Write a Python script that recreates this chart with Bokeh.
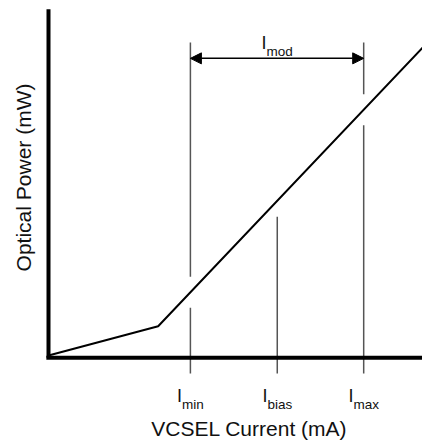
import numpy as np
from bokeh.plotting import figure
from bokeh.models import Range1d, Arrow, NormalHead
from bokeh.core.properties import value
from bokeh.embed import file_html
from bokeh.resources import INLINE

# ---- data (schematic L-I curve) ----
current_ma = [0.0, 2.55, 8.7]          # curve break points (mA, arbitrary units)
power_mw = [0.0, 0.68, 7.16]           # optical power at those points
marker_names = ["min", "bias", "max"]  # subscripts of the marked currents
marker_currents = [3.3, 5.32, 7.33]
span_name = "mod"
x_title = "VCSEL Current (mA)"
y_title = "Optical Power (mW)"

# ---- layout ----
W, H = 422, 442
PX = 43.0          # pixels per unit
OX, OY = 48, 355   # origin position inside canvas (px from left / top)

p = figure(width=W, height=H,
           x_range=Range1d(-OX / PX, (W - OX) / PX),
           y_range=Range1d(-(H - OY) / PX, OY / PX),
           output_backend="svg", toolbar_location=None,
           x_axis_location=None, y_axis_location=None, min_border=0)
p.outline_line_color = None
p.grid.visible = False
p.background_fill_color = "white"
p.border_fill_color = "white"

FONT = value("Liberation Sans")
TOP = 8.05
BOTTOM_TICK = -0.42
LINE_TOP = 7.28
GAP = 0.36

def curve(x):
    return float(np.interp(x, current_ma, power_mw))

def lift(fs):
    # compensation for baseline placement (in data units)
    return 0.33 * fs / PX

# marker lines
x0s, y0s, x1s, y1s = [], [], [], []
for name, xc in zip(marker_names, marker_currents):
    yc = curve(xc)
    if name == "bias":
        x0s.append(xc); y0s.append(BOTTOM_TICK); x1s.append(xc); y1s.append(yc - GAP - 0.01)
    else:
        x0s += [xc, xc]; y0s += [BOTTOM_TICK, yc + GAP]
        x1s += [xc, xc]; y1s += [yc - GAP, LINE_TOP]
p.segment(x0=x0s, y0=y0s, x1=x1s, y1=y1s, line_color="#555555", line_width=1.5)

# axes
p.line(x=[0, 0], y=[-0.05, TOP], line_color="black", line_width=4)
p.line(x=[-0.05, 10], y=[-0.05, -0.05], line_color="black", line_width=4)

# curve
p.line(x=current_ma, y=power_mw, line_color="black", line_width=2)

# modulation arrow
i_min = marker_currents[marker_names.index("min")]
i_max = marker_currents[marker_names.index("max")]
ARROW_Y = 6.91
p.add_layout(Arrow(x_start=i_min, y_start=ARROW_Y, x_end=i_max, y_end=ARROW_Y,
                   line_width=1.5, line_color="black",
                   start=NormalHead(size=11, fill_color="black", line_color="black", line_width=1),
                   end=NormalHead(size=11, fill_color="black", line_color="black", line_width=1)))

# label helpers
CW = {"m": .833, "i": .222, "n": .556, "b": .556, "a": .556, "s": .5, "x": .5, "o": .556, "d": .556}
BIG, SMALL, TITLE = 18, 13.5, 21
I_ADV = 0.278 * BIG

def offs(sub):
    w = sum(CW[c] for c in sub) * SMALL
    return (I_ADV - w) / 2.0

# tick labels
TL_I_Y, TL_SUB_Y = -1.086, -1.24
xo = [offs(n) for n in marker_names]
p.text(x=marker_currents, y=[TL_I_Y + lift(BIG)] * 3, text=["I"] * 3, x_offset=xo,
       text_font=FONT, text_font_size=value(f"{BIG}px"), text_align="right",
       text_baseline="alphabetic", text_color="#111111")
p.text(x=marker_currents, y=[TL_SUB_Y + lift(SMALL)] * 3, text=marker_names, x_offset=xo,
       text_font=FONT, text_font_size=value(f"{SMALL}px"), text_align="left",
       text_baseline="alphabetic", text_color="#111111")

# span label
mid = (i_min + i_max) / 2.0
p.text(x=[mid], y=[7.13 + lift(BIG)], text=["I"], x_offset=[offs(span_name)],
       text_font=FONT, text_font_size=value(f"{BIG}px"), text_align="right",
       text_baseline="alphabetic", text_color="#111111")
p.text(x=[mid], y=[6.96 + lift(SMALL)], text=[span_name], x_offset=[offs(span_name)],
       text_font=FONT, text_font_size=value(f"{SMALL}px"), text_align="left",
       text_baseline="alphabetic", text_color="#111111")

# axis titles
p.text(x=[4.67], y=[-1.86 + lift(TITLE)], text=[x_title], text_font=FONT,
       text_font_size=value(f"{TITLE}px"), text_align="center",
       text_baseline="alphabetic", text_color="#111111")
p.text(x=[-0.42 - lift(TITLE)], y=[4.14], text=[y_title], angle=np.pi / 2, text_font=FONT,
       text_font_size=value(f"{TITLE}px"), text_align="center",
       text_baseline="alphabetic", text_color="#111111")

open("out.html", "w").write(file_html(p, INLINE))
